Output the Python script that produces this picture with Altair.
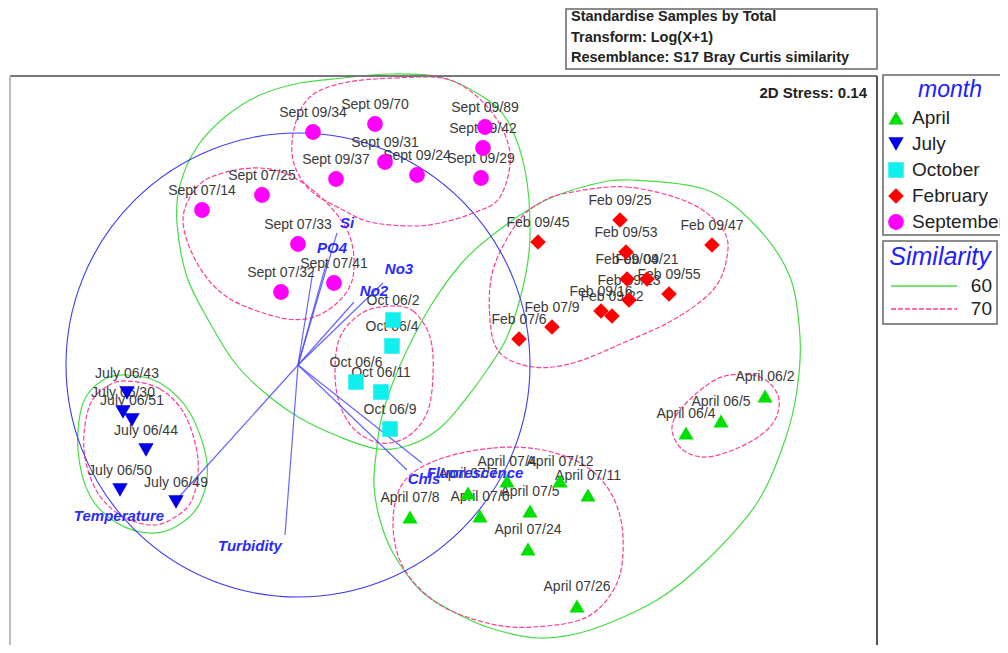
import altair as alt
import pandas as pd

# ---------------- data (MDS ordination, plot units: x right, y down) ----------------
months = ["April", "July", "October", "February", "September"]
month_shapes = ["triangle-up", "triangle-down", "square", "diamond", "circle"]
month_colors = ["#00e000", "#0000e8", "#10eeee", "#ff0000", "#ff00ff"]
month_sizes = [230, 250, 150, 260, 170]

sept_names = ["Sept 09/34", "Sept 09/70", "Sept 09/89", "Sept 09/42", "Sept 09/31", "Sept 09/37",
              "Sept 09/24", "Sept 09/29", "Sept 07/25", "Sept 07/14", "Sept 07/33", "Sept 07/41", "Sept 07/32"]
sept_x = [313, 375, 485, 483, 385, 336, 417, 481, 262, 202, 298, 334, 281]
sept_y = [132, 124, 127, 148, 162, 179, 175, 178, 195, 210, 244, 283, 292]

feb_names = ["Feb 09/25", "Feb 09/45", "Feb 09/53", "Feb 09/47", "Feb 09/04", "Feb 09/21",
             "Feb 09/55", "Feb 09/23", "Feb 09/16", "Feb 09/22", "Feb 07/9", "Feb 07/6"]
feb_x = [620, 538, 626, 712, 627, 647, 669, 629, 601, 612, 552, 519]
feb_y = [220, 242, 252, 245, 279, 279, 294, 300, 311, 316, 327, 339]

oct_names = ["Oct 06/2", "Oct 06/4", "Oct 06/6", "Oct 06/11", "Oct 06/9"]
oct_x = [393, 392, 356, 381, 390]
oct_y = [320, 346, 382, 392, 429]

july_names = ["July 06/43", "July 06/30", "July 06/51", "July 06/44", "July 06/50", "July 06/49"]
july_x = [127, 123, 132, 146, 120, 176]
july_y = [393, 412, 420, 450, 490, 502]

april_names = ["April 07/8", "April 07/7", "April 07/6", "April 07/4", "April 07/12", "April 07/11",
               "April 07/5", "April 07/24", "April 07/26", "April 06/2", "April 06/5", "April 06/4"]
april_x = [410, 468, 480, 507, 560, 588, 530, 528, 577, 765, 721, 686]
april_y = [517, 493, 516, 481, 481, 495, 511, 549, 606, 396, 421, 433]

# environmental vectors (origin = centre of correlation circle)
origin = (298, 365)
circle_radius_px = 232
vec_names = ["Si", "PO4", "", "No3", "No2", "Chls", "Fluorescence", "Temperature", "Turbidity"]
vec_end_x = [337, 327, 313, 383, 354, 407, 422, 178, 285]
vec_end_y = [233, 261, 271, 283, 302, 470, 463, 498, 535]
vec_lab_x = [347, 332, 0, 399, 374, 424, 475, 119, 250]
vec_lab_y = [223, 248, 0, 269, 291, 479, 473, 516, 546]

# similarity contours (points read around each outline)
g60_septoct = [(343, 78), (390, 74), (440, 77), (480, 95), (507, 120), (525, 170), (530, 237), (523, 287),
               (507, 337), (487, 370), (465, 400), (440, 428), (410, 445), (378, 449), (340, 437),
               (300, 418), (265, 393), (235, 363), (210, 323), (187, 277), (177, 223), (180, 185),
               (197, 147), (225, 117), (260, 95), (300, 83)]
g60_febapr = [(633, 180), (707, 190), (757, 227), (790, 277), (800, 337), (797, 390), (785, 440),
              (757, 503), (707, 560), (657, 600), (590, 630), (540, 638), (490, 628), (450, 610),
              (420, 590), (393, 553), (380, 520), (374, 486), (376, 455), (381, 420), (392, 385),
              (407, 350), (430, 307), (460, 265), (490, 237), (540, 203), (590, 185)]
g60_july = [(127, 375), (160, 383), (190, 413), (207, 463), (200, 503), (177, 526), (150, 533),
            (117, 523), (90, 496), (78, 450), (83, 403), (103, 380)]
p70_july = [(127, 381), (160, 389), (185, 415), (198, 460), (192, 500), (172, 519), (150, 525),
            (120, 515), (96, 490), (84, 450), (89, 407), (106, 387)]
p70_sept09 = [(343, 83), (395, 78), (450, 80), (490, 110), (510, 153), (500, 197), (473, 213),
              (440, 223), (410, 226), (370, 222), (343, 210), (310, 190), (293, 160), (295, 125), (310, 97)]
p70_sept07 = [(223, 173), (260, 168), (293, 177), (327, 203), (350, 237), (353, 277), (337, 303),
              (310, 318), (277, 317), (227, 297), (197, 263), (183, 220), (197, 187)]
p70_oct = [(390, 306), (413, 311), (430, 337), (433, 375), (427, 413), (407, 437), (380, 443),
           (355, 430), (340, 405), (335, 373), (340, 337), (362, 313)]
p70_feb = [(567, 193), (627, 187), (690, 203), (723, 230), (727, 257), (713, 290), (673, 320),
           (623, 343), (573, 363), (533, 367), (500, 353), (490, 320), (493, 270), (517, 223), (540, 203)]
p70_apr07 = [(437, 460), (493, 448), (543, 450), (587, 467), (613, 497), (623, 537), (617, 583),
             (587, 617), (533, 627), (487, 623), (437, 603), (403, 567), (393, 523), (403, 483)]
p70_apr06 = [(672, 430), (680, 410), (707, 385), (730, 375), (760, 377), (777, 393), (778, 412),
             (767, 430), (740, 447), (707, 457), (683, 450)]

similarity_levels = ["60", "70"]
level_colors = ["#44dd44", "#ff3c96"]

header_lines = ["Standardise Samples by Total", "Transform: Log(X+1)",
                "Resemblance: S17 Bray Curtis similarity"]
stress_text = "2D Stress: 0.14"

# ---------------- build tables ----------------
rows = []
for names, xs_, ys_, m in [(april_names, april_x, april_y, "April"), (july_names, july_x, july_y, "July"),
                           (oct_names, oct_x, oct_y, "October"), (feb_names, feb_x, feb_y, "February"),
                           (sept_names, sept_x, sept_y, "September")]:
    for n, x, y in zip(names, xs_, ys_):
        rows.append({"name": n, "month": m, "x": x, "y": y})
samples = pd.DataFrame(rows)

crow = []
for cname, pts, lvl in [("g_so", g60_septoct, "60"), ("g_fa", g60_febapr, "60"), ("g_j", g60_july, "60"),
                        ("p_j", p70_july, "70"), ("p_s9", p70_sept09, "70"), ("p_s7", p70_sept07, "70"),
                        ("p_o", p70_oct, "70"), ("p_f", p70_feb, "70"), ("p_a7", p70_apr07, "70"),
                        ("p_a6", p70_apr06, "70")]:
    for i, (x, y) in enumerate(pts):
        crow.append({"contour": cname, "level": lvl, "i": i, "x": x, "y": y})
contours = pd.DataFrame(crow)

vectors = pd.DataFrame({"name": vec_names, "x": [origin[0]] * len(vec_names), "y": [origin[1]] * len(vec_names),
                        "x2": vec_end_x, "y2": vec_end_y, "lx": vec_lab_x, "ly": vec_lab_y})
vec_labels = vectors[vectors["name"] != ""]

# ---------------- scales ----------------
W, H = 992, 637
xs = alt.Scale(domain=[8, 1000], nice=False, zero=False)
ys = alt.Scale(domain=[8, 645], nice=False, zero=False, reverse=True)


def X(f):
    return alt.X(f + ":Q", scale=xs, axis=None)


def Y(f):
    return alt.Y(f + ":Q", scale=ys, axis=None)


shape_enc = alt.Shape("month:N", scale=alt.Scale(domain=months, range=month_shapes), legend=None)
color_enc = alt.Color("month:N", scale=alt.Scale(domain=months, range=month_colors), legend=None)
size_enc = alt.Size("month:N", scale=alt.Scale(domain=months, range=month_sizes), legend=None)

FONT = "Liberation Sans"

# frame and boxes
frame = pd.DataFrame({"x": [10, 10, 877], "x2": [877, 10, 877], "y": [76, 76, 76], "y2": [76, 660, 660],
                      "c": ["#777777", "#bbbbbb", "#555555"]})
frame_layer = alt.Chart(frame).mark_rule(strokeWidth=2, clip=True).encode(
    x=X("x"), x2="x2:Q", y=Y("y"), y2="y2:Q", color=alt.Color("c:N", scale=None))

boxes = pd.DataFrame({"x": [566, 883, 883], "x2": [877, 1010, 997], "y": [9, 75, 241], "y2": [69, 235, 324]})
box_layer = alt.Chart(boxes).mark_rect(fillOpacity=0, stroke="#666666", strokeWidth=1.5).encode(
    x=X("x"), x2="x2:Q", y=Y("y"), y2="y2:Q")

header = pd.DataFrame({"t": header_lines, "x": [571] * 3, "y": [17, 38, 58]})
header_layer = alt.Chart(header).mark_text(align="left", baseline="middle", font=FONT, fontSize=14.5,
                                           fontWeight="bold", color="#222222").encode(
    x=X("x"), y=Y("y"), text="t:N")

stress_layer = alt.Chart(pd.DataFrame({"t": [stress_text], "x": [867], "y": [93]})).mark_text(
    align="right", baseline="middle", font=FONT, fontSize=15, fontWeight="bold", color="#222222").encode(
    x=X("x"), y=Y("y"), text="t:N")

# contours
green_layer = alt.Chart(contours[contours["level"] == "60"]).mark_line(
    interpolate="cardinal-closed", color=level_colors[0], strokeWidth=1.2, clip=True).encode(
    x=X("x"), y=Y("y"), detail="contour:N", order="i:Q")
pink_layer = alt.Chart(contours[contours["level"] == "70"]).mark_line(
    interpolate="cardinal-closed", color=level_colors[1], strokeWidth=1.2, strokeDash=[5, 2], clip=True).encode(
    x=X("x"), y=Y("y"), detail="contour:N", order="i:Q")

circle_layer = alt.Chart(pd.DataFrame({"x": [origin[0]], "y": [origin[1]]})).mark_point(
    shape="circle", filled=False, size=(2 * circle_radius_px) ** 2, color="#3b3bf0", strokeWidth=1.1,
    opacity=1).encode(x=X("x"), y=Y("y"))

vec_layer = alt.Chart(vectors).mark_rule(color="#4a4aff", strokeWidth=1.2, opacity=0.85).encode(
    x=X("x"), y=Y("y"), x2="x2:Q", y2="y2:Q")

vec_text_layer = alt.Chart(vec_labels).mark_text(
    align="center", baseline="middle", font=FONT, fontSize=15, fontWeight="bold", fontStyle="italic",
    color="#2b2bff").encode(x=X("lx"), y=Y("ly"), text="name:N")

# samples
label_layer = alt.Chart(samples).mark_text(
    align="center", baseline="middle", dy=-19, font=FONT, fontSize=14, color="#3a3a3a").encode(
    x=X("x"), y=Y("y"), text="name:N")
point_layer = alt.Chart(samples).mark_point(filled=True, opacity=1).encode(
    x=X("x"), y=Y("y"), shape=shape_enc, color=color_enc, size=size_enc)

# legend (month)
leg = pd.DataFrame({"month": months, "x": [896] * 5, "tx": [912] * 5,
                    "y": [118 + 26 * i for i in range(5)]})
leg_pts = alt.Chart(leg).mark_point(filled=True, opacity=1).encode(
    x=X("x"), y=Y("y"), shape=shape_enc, color=color_enc, size=size_enc)
leg_txt = alt.Chart(leg).mark_text(align="left", baseline="middle", font=FONT, fontSize=19,
                                   color="#222222").encode(x=X("tx"), y=Y("y"), text="month:N")
titles = pd.DataFrame({"t": ["month", "Similarity"], "x": [950, 940], "y": [90, 257], "s": [23, 25]})
title_layer = alt.Chart(titles).mark_text(align="center", baseline="middle", font=FONT, fontStyle="italic",
                                          color="#2020ff").encode(
    x=X("x"), y=Y("y"), text="t:N", size=alt.Size("s:Q", scale=None))

# legend (similarity)
sim = pd.DataFrame({"level": similarity_levels, "x": [891, 891], "x2": [957, 957], "y": [286, 309],
                    "tx": [992, 992]})
sim_green = alt.Chart(sim[sim["level"] == "60"]).mark_rule(color=level_colors[0], strokeWidth=1.5).encode(
    x=X("x"), x2="x2:Q", y=Y("y"))
sim_pink = alt.Chart(sim[sim["level"] == "70"]).mark_rule(color=level_colors[1], strokeWidth=1.5,
                                                          strokeDash=[5, 2]).encode(
    x=X("x"), x2="x2:Q", y=Y("y"))
sim_txt = alt.Chart(sim).mark_text(align="right", baseline="middle", font=FONT, fontSize=19,
                                   color="#222222").encode(x=X("tx"), y=Y("y"), text="level:N")

chart = alt.layer(
    green_layer, pink_layer, circle_layer, vec_layer, label_layer, point_layer, vec_text_layer,
    frame_layer, box_layer, header_layer, stress_layer, leg_pts, leg_txt, title_layer,
    sim_green, sim_pink, sim_txt
).properties(width=W, height=H, padding=0, autosize=alt.AutoSizeParams(type="none"),
             background="white").configure_view(strokeWidth=0)

chart.save("out.html", embed_options={"renderer": "svg", "actions": False})
